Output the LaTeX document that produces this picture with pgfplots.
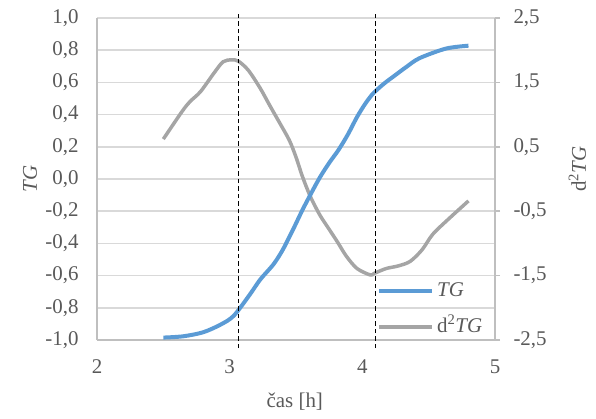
\documentclass[border=0pt]{standalone}
\usepackage{fontspec}
\setmainfont{Liberation Serif}
\usepackage{pgfplots}
\pgfplotsset{compat=1.18}
\definecolor{tgblue}{HTML}{5B9BD5}
\definecolor{tggray}{HTML}{A5A5A5}
\definecolor{txt}{HTML}{595959}
\definecolor{gridc}{HTML}{D9D9D9}
\definecolor{axl}{HTML}{BFBFBF}
\pgfplotsset{
  base/.style={
    scale only axis, width=398bp, height=322bp,
    xmin=2, xmax=5,
    at={(0,0)}, anchor=south west,
    font=\fontsize{21}{25}\selectfont,
    tick label style={font=\fontsize{21}{25}\selectfont, text=txt},
    label style={font=\fontsize{21}{25}\selectfont, text=txt},
    /pgf/number format/assume math mode=true,
    yticklabel style={/pgf/number format/fixed, /pgf/number format/fixed zerofill, /pgf/number format/precision=1, /pgf/number format/use comma},
    xticklabel style={/pgf/number format/fixed, /pgf/number format/precision=0},
  }
}
\begin{document}
\begin{tikzpicture}
% left axis with grid
\begin{axis}[base,
  ymin=-1, ymax=1,
  ytick={-1,-0.8,-0.6,-0.4,-0.2,0,0.2,0.4,0.6,0.8,1},
  xtick={2,3,4,5},
  ymajorgrids, grid style={gridc, line width=1.5bp},
  axis x line*=bottom, axis y line*=left,
  axis line style={axl, line width=1.5bp},
  major tick length=0pt,
  yticklabel style={xshift=-15bp},
  xticklabel style={yshift=-16bp},
  ylabel={\textit{TG}},
  ylabel style={at={(axis description cs:-0.168,0.5)}, anchor=center},
  xlabel={čas [h]},
  xlabel style={at={(axis description cs:0.497,-0.19)}, anchor=center},
]
\addplot[draw=none, forget plot] coordinates {(2,0)};
\end{axis}
% right axis, d2TG
\begin{axis}[base,
  ymin=-2.5, ymax=2.5,
  ytick={-2.5,-1.5,-0.5,0.5,1.5,2.5},
  axis y line*=right, axis x line=none,
  axis line style={axl, line width=1.5bp},
  ytick style={axl, line width=1.5bp},
  tick align=outside, major tick length=5bp,
  yticklabel style={xshift=10bp},
  ylabel={d\textsuperscript{2}\textit{TG}},
  ylabel style={at={(axis description cs:1.207,0.53)}, anchor=center},
]
\addplot[tggray, line width=3.5bp, smooth] coordinates {
(2.50,0.62) (2.64,1.045) (2.70,1.20) (2.78,1.356) (2.88,1.64) (2.95,1.82)
(3.015,1.85) (3.065,1.83) (3.14,1.69) (3.23,1.41) (3.30,1.15) (3.38,0.86)
(3.45,0.60) (3.50,0.34) (3.55,0.03) (3.61,-0.28) (3.68,-0.56) (3.74,-0.75)
(3.81,-0.97) (3.88,-1.20) (3.96,-1.39) (4.06,-1.49) (4.09,-1.465) (4.18,-1.39)
(4.27,-1.35) (4.36,-1.28) (4.45,-1.10) (4.53,-0.86) (4.64,-0.64) (4.80,-0.34)
};
\end{axis}
% TG on left scale, overlay
\begin{axis}[base,
  ymin=-1, ymax=1, hide axis, clip=false,
  legend style={at={(rel axis cs:0.7035,0.183)}, anchor=north west,
    draw=none, fill=none, inner sep=0pt, row sep=17bp, column sep=3bp,
    font=\fontsize{21}{25}\selectfont, text=txt,
    nodes={inner sep=0bp, text height=15bp, text depth=4bp}},
  legend cell align=left,
  legend image code/.code={\draw[#1] (0bp,0bp) -- (53bp,0bp);},
]
\addplot[tgblue, line width=4bp, smooth] coordinates {
(2.50,-0.985) (2.65,-0.977) (2.80,-0.952) (2.93,-0.905) (3.03,-0.850)
(3.15,-0.72) (3.23,-0.625) (3.33,-0.53) (3.40,-0.44) (3.48,-0.31)
(3.55,-0.19) (3.62,-0.08) (3.68,0.01) (3.75,0.10) (3.82,0.18)
(3.89,0.275) (3.96,0.385) (4.02,0.465) (4.08,0.53) (4.16,0.59)
(4.24,0.64) (4.33,0.695) (4.43,0.75) (4.63,0.81) (4.80,0.828)
};
\addlegendentry{\textit{TG}}
\addlegendimage{tggray, line width=3.5bp}
\addlegendentry{d\textsuperscript{2}\textit{TG}}
\addplot[black, line width=1.2bp, dash pattern=on 4.5bp off 3bp, forget plot] coordinates {(3.066,-1.05) (3.066,1.037)};
\addplot[black, line width=1.2bp, dash pattern=on 4.5bp off 3bp, forget plot] coordinates {(4.10,-1.05) (4.10,1.037)};
\end{axis}
\pgfresetboundingbox
\path (-97bp,-79bp) rectangle (499bp,340bp);
\end{tikzpicture}
\end{document}
